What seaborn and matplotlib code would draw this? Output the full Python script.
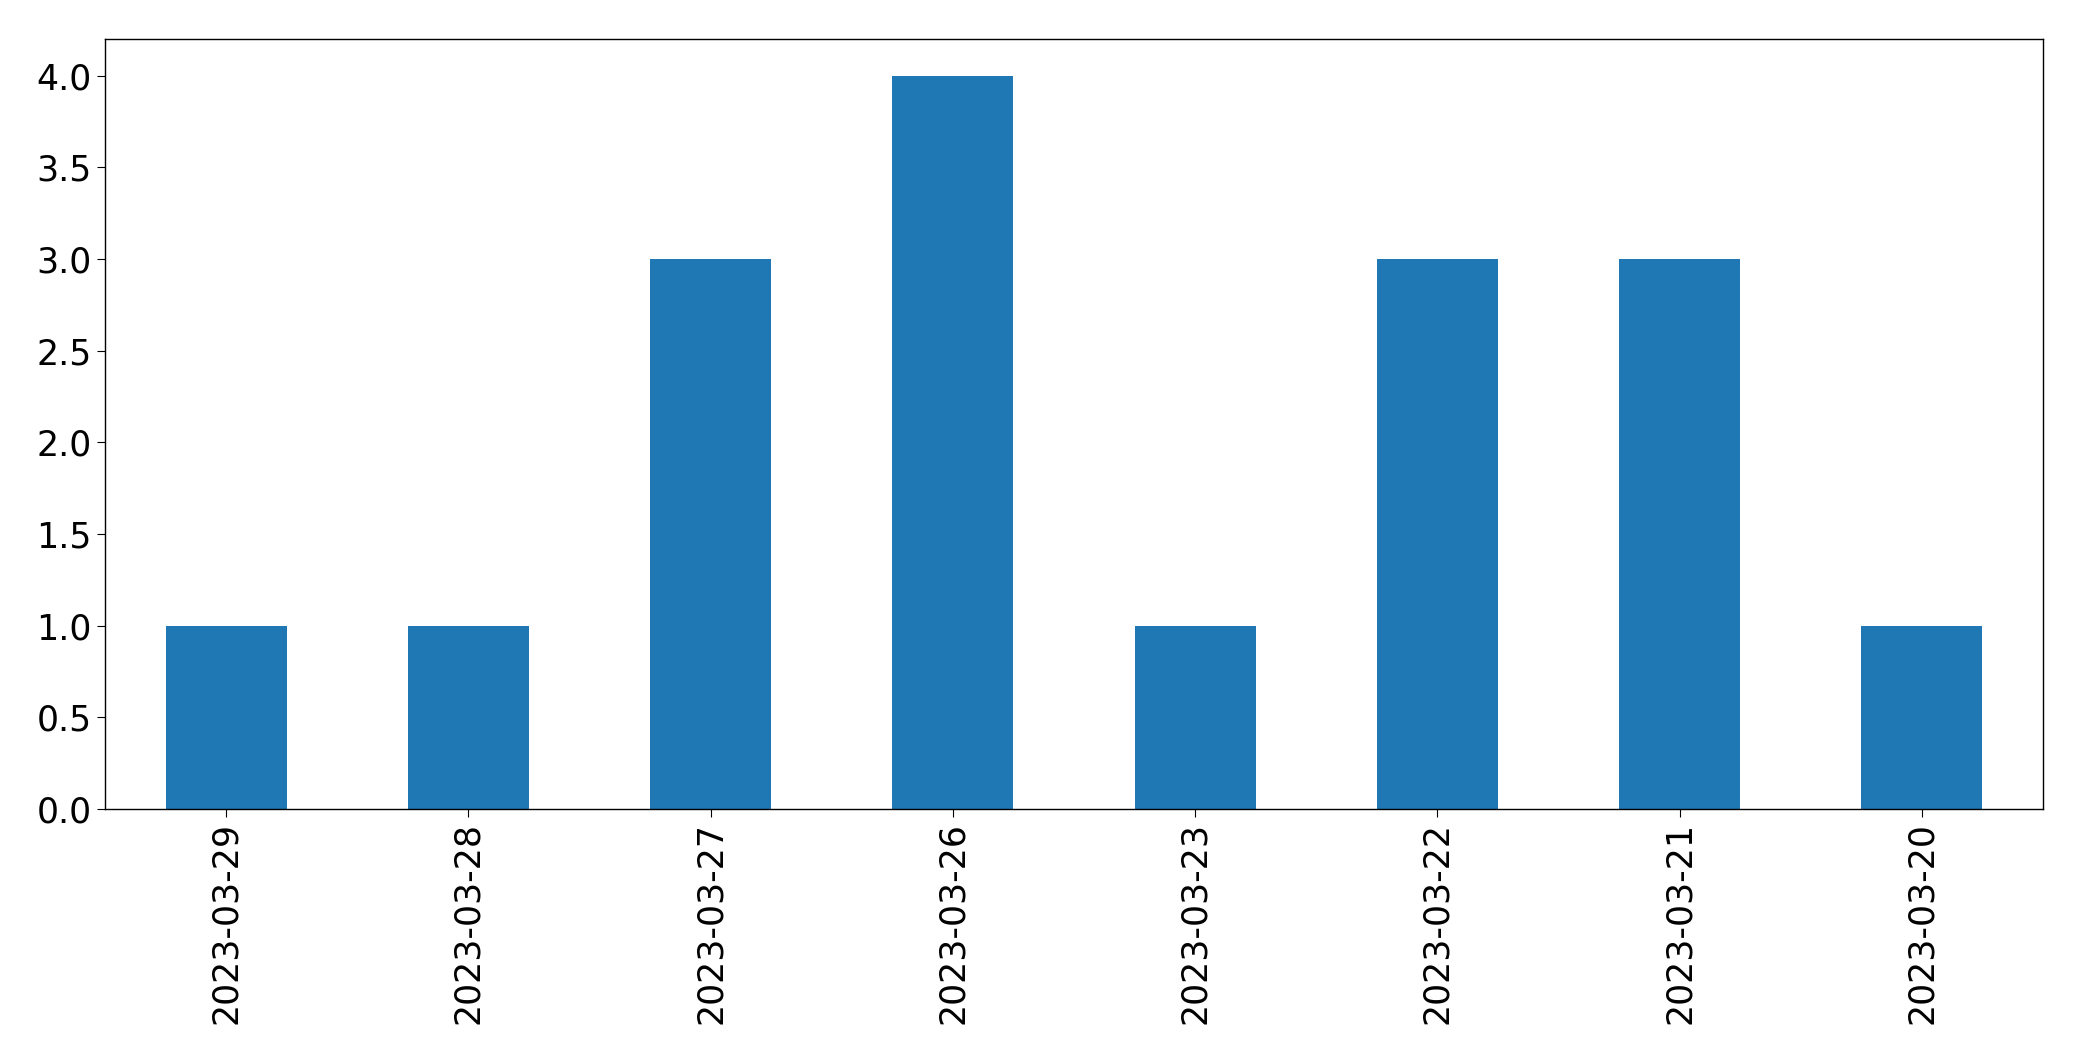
import matplotlib
matplotlib.use("Agg")
import matplotlib.pyplot as plt
import seaborn as sns
import pandas as pd

dates = ["2023-03-29", "2023-03-28", "2023-03-27", "2023-03-26",
         "2023-03-23", "2023-03-22", "2023-03-21", "2023-03-20"]
counts = [1, 1, 3, 4, 1, 3, 3, 1]

df = pd.DataFrame({"date": dates, "count": counts})

fig = plt.figure(figsize=(20.82, 10.61), dpi=100)
ax = fig.add_axes([105 / 2082, 1 - 809 / 1061, (2043 - 105) / 2082, (809 - 39) / 1061])
sns.barplot(data=df, x="date", y="count", order=dates, color="#1f77b4",
            saturation=1, width=0.5, ax=ax, errorbar=None)
ax.set_xlim(-0.5, len(dates) - 0.5)
ax.set_ylim(0, 4.2)
ax.set_xlabel("")
ax.set_ylabel("")
ax.tick_params(axis="both", labelsize=25, length=6, colors="black")
ax.tick_params(axis="x", labelrotation=90)
for s in ax.spines.values():
    s.set_visible(True)
    s.set_color("black")
    s.set_linewidth(1.0)
fig.savefig("out.png", dpi=100)
